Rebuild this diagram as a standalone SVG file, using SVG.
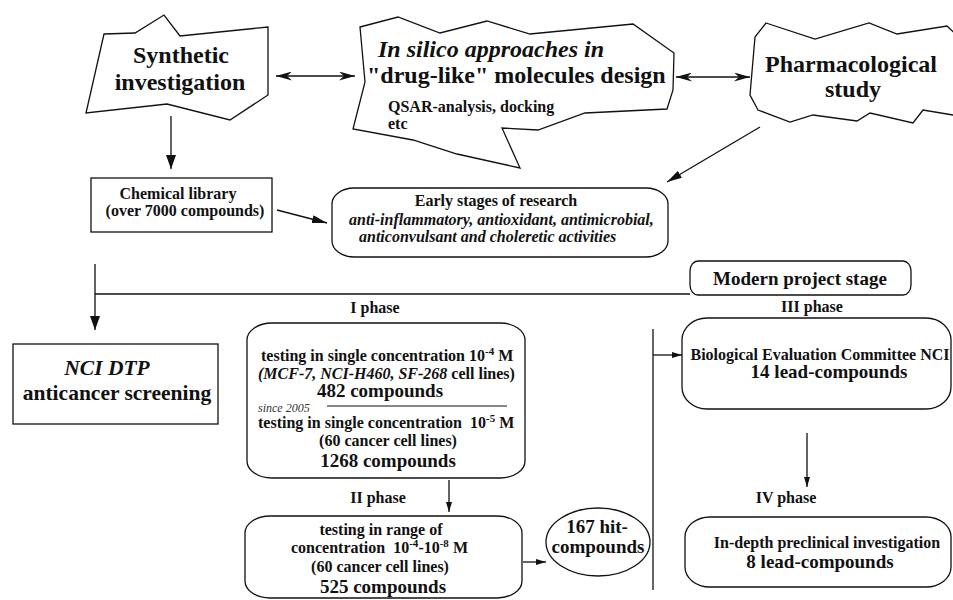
<svg xmlns="http://www.w3.org/2000/svg" width="953" height="600" viewBox="0 0 953 600">
<defs>
<style>
text{font-family:"Liberation Serif","Times New Roman",serif;font-weight:bold;fill:#111;}
.s16{font-size:16px;}
.s19{font-size:19px;}
.s24{font-size:24px;}
.it{font-style:italic;}
.nb{font-weight:normal;}
.shape{fill:#fff;stroke:#111;stroke-width:1.3;}
.ln{fill:none;stroke:#111;stroke-width:1.3;}
</style>
<marker id="big" viewBox="0 0 14 10" refX="14" refY="5" markerWidth="14" markerHeight="10" markerUnits="userSpaceOnUse" orient="auto"><path d="M0,0 L14,5 L0,10 z" fill="#111"/></marker>
<marker id="mid" viewBox="0 0 15 8" refX="15" refY="4" markerWidth="15" markerHeight="8" markerUnits="userSpaceOnUse" orient="auto"><path d="M0,0 L15,4 L0,8 z" fill="#111"/></marker>
<marker id="small" viewBox="0 0 10 6" refX="10" refY="3" markerWidth="10" markerHeight="6" markerUnits="userSpaceOnUse" orient="auto"><path d="M0,0 L10,3 L0,6 z" fill="#111"/></marker>
<marker id="barb" viewBox="0 0 16 9" refX="16" refY="4.5" markerWidth="16" markerHeight="9" markerUnits="userSpaceOnUse" orient="auto-start-reverse"><path d="M0,0 L16,4.5 L0,9 L5,4.5 z" fill="#111"/></marker>
</defs>

<g id="connectors">
<path class="ln" d="M276,76 L355,76" marker-start="url(#barb)" marker-end="url(#barb)"/>
<path class="ln" d="M676,77 L750,77" marker-start="url(#barb)" marker-end="url(#barb)"/>
<path class="ln" d="M171,116 L171,169" marker-end="url(#big)"/>
<path class="ln" d="M760,127 L667,182" marker-end="url(#mid)"/>
<path class="ln" d="M277,210 L327,223" marker-end="url(#mid)"/>
<path class="ln" d="M95,264 L95,330" marker-end="url(#big)"/>
<path class="ln" d="M95,294 L690,294"/>
<path class="ln" d="M449,480 L449,512" marker-end="url(#small)"/>
<path class="ln" d="M523,562 L546,562" marker-end="url(#small)"/>
<path class="ln" d="M653,329 L653,590"/>
<path class="ln" d="M653,355 L682,355" marker-end="url(#small)"/>
<path class="ln" d="M807,433 L807,487" marker-end="url(#small)"/>
</g>

<g id="synthetic">
<polygon class="shape" points="104,34 135,33 164,15 180,36 268,27 268,95 230,120 167,104 86,113"/>
<text class="s24" x="181" y="63" text-anchor="middle">Synthetic</text>
<text class="s24" x="180" y="90" text-anchor="middle">investigation</text>
</g>

<g id="insilico">
<polygon class="shape" points="360,27 398,17 440,33 487,21 530,34 633,24 674,53 673,90 667,109 585,113 538,130 502,128 520,168 457,154 413,140 353,129 365,82"/>
<text class="s24 it" x="378" y="57">In silico approaches in</text>
<text class="s24" x="367" y="83">"drug-like" molecules design</text>
<text class="s16" x="388" y="112">QSAR-analysis, docking</text>
<text class="s16" x="388" y="129">etc</text>
</g>

<g id="pharmacological">
<polygon class="shape" points="766,23 815,39 869,23 897,34 947,26 962,40 962,113 953,115 923,110 913,123 870,113 857,121 813,115 790,122 758,110 750,95 755,37"/>
<text class="s24" x="851" y="72" text-anchor="middle">Pharmacological</text>
<text class="s24" x="853" y="97" text-anchor="middle">study</text>
</g>

<g id="library">
<rect class="shape" x="91" y="178" width="181" height="54"/>
<text class="s16" x="178" y="199" text-anchor="middle">Chemical library</text>
<text class="s16" x="185" y="216" text-anchor="middle">(over 7000 compounds)</text>
</g>

<g id="early">
<rect class="shape" x="332" y="188" width="336" height="69" rx="22" ry="16"/>
<text class="s16" x="496" y="206" text-anchor="middle">Early stages of research</text>
<text class="s16 it" x="349" y="225">anti-inflammatory, antioxidant, antimicrobial,</text>
<text class="s16 it" x="359" y="242">anticonvulsant and choleretic activities</text>
</g>

<g id="modern">
<rect class="shape" x="690" y="261" width="221" height="34" rx="8" ry="10"/>
<text class="s19" x="800" y="285" text-anchor="middle">Modern project stage</text>
</g>

<g id="nci">
<rect class="shape" x="13" y="344" width="205" height="80"/>
<text style="font-size:21.5px" class="it" x="107" y="375" text-anchor="middle">NCI DTP</text>
<text style="font-size:21.5px" x="117" y="400" text-anchor="middle">anticancer screening</text>
</g>

<g id="phase1">
<text class="s16" x="375" y="313" text-anchor="middle">I phase</text>
<rect class="shape" x="247" y="323" width="278" height="155" rx="25" ry="17"/>
<text class="s16" x="261" y="361">testing in single concentration 10<tspan font-size="11" dy="-6">-4</tspan><tspan dy="6"> M</tspan></text>
<text class="s16" x="258" y="379"><tspan class="it">(MCF-7, NCI-H460, SF-268</tspan> cell lines)</text>
<text class="s19" x="380" y="397" text-anchor="middle">482 compounds</text>
<text class="it nb" style="font-size:12px;fill:#333" x="258" y="412">since 2005</text>
<path class="ln" d="M327,406 L507,406" style="stroke-width:1"/>
<text class="s16" x="258" y="428">testing in single concentration &#160;10<tspan font-size="11" dy="-6">-5</tspan><tspan dy="6"> M</tspan></text>
<text class="s16" x="388" y="446" text-anchor="middle">(60 cancer cell lines)</text>
<text class="s19" x="388" y="467" text-anchor="middle">1268 compounds</text>
</g>

<g id="phase2">
<text class="s16" x="378" y="503" text-anchor="middle">II phase</text>
<rect class="shape" x="245" y="516" width="277" height="82" rx="25" ry="17"/>
<text class="s16" x="381" y="535" text-anchor="middle">testing in range of</text>
<text class="s16" x="291" y="553">concentration &#160;10<tspan font-size="11" dy="-6">-4</tspan><tspan dy="6">-10</tspan><tspan font-size="11" dy="-6">-8</tspan><tspan dy="6"> M</tspan></text>
<text class="s16" x="380" y="572" text-anchor="middle">(60 cancer cell lines)</text>
<text class="s19" x="383" y="593" text-anchor="middle">525 compounds</text>
</g>

<g id="hits">
<ellipse class="shape" cx="598" cy="542" rx="52" ry="34"/>
<text class="s19" x="597" y="533" text-anchor="middle">167 hit-</text>
<text class="s19" x="598" y="553" text-anchor="middle">compounds</text>
</g>

<g id="phase3">
<text class="s16" x="812" y="312" text-anchor="middle">III phase</text>
<rect class="shape" x="682" y="318" width="269" height="91" rx="25" ry="22"/>
<text class="s16" x="820" y="360" text-anchor="middle">Biological Evaluation Committee NCI</text>
<text class="s19" x="829" y="378" text-anchor="middle">14 lead-compounds</text>
</g>

<g id="phase4">
<text class="s16" x="786" y="503" text-anchor="middle">IV phase</text>
<rect class="shape" x="685" y="517" width="266" height="70" rx="25" ry="20"/>
<text class="s16" x="827" y="548" text-anchor="middle">In-depth preclinical investigation</text>
<text class="s19" x="820" y="568" text-anchor="middle">8 lead-compounds</text>
</g>
</svg>
